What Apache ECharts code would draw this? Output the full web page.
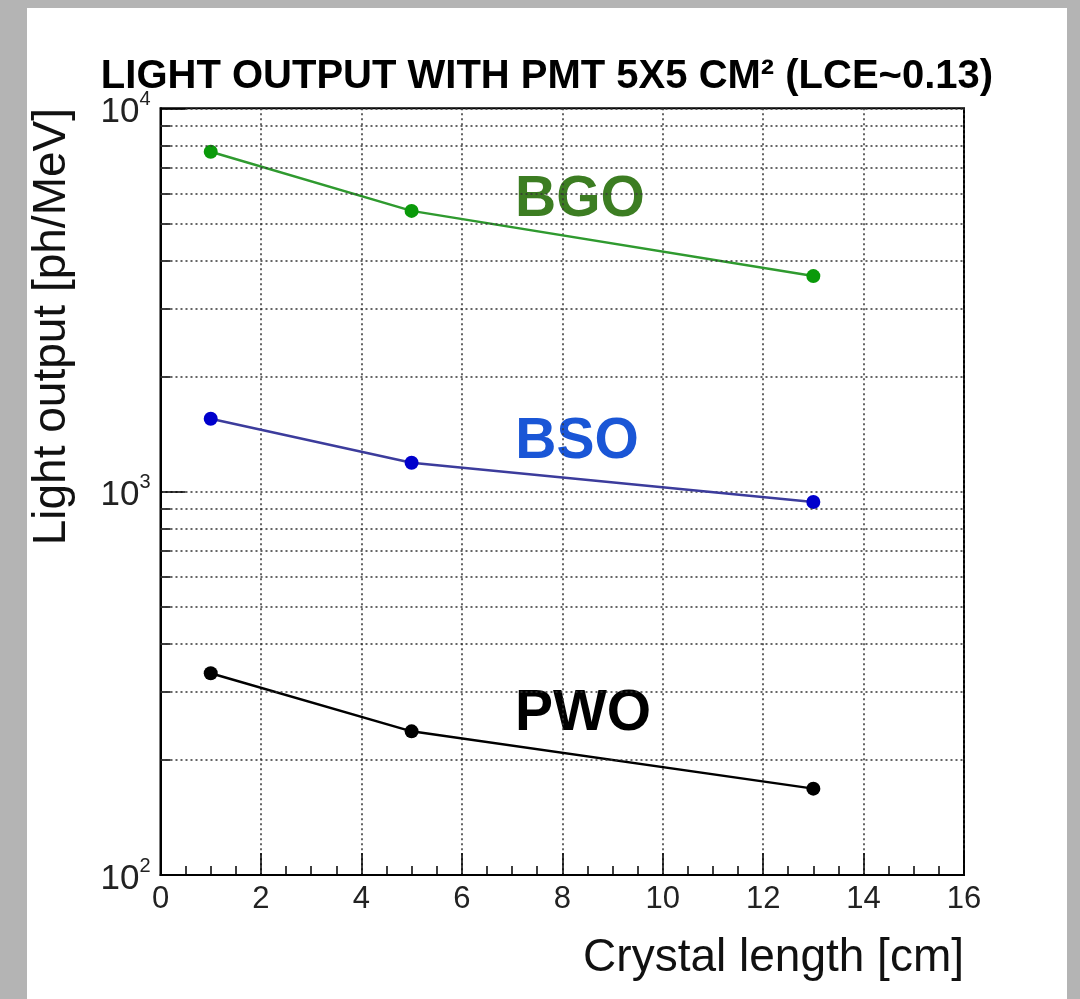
<!DOCTYPE html>
<html>
<head>
<meta charset="utf-8">
<script src="https://cdn.jsdelivr.net/npm/echarts@6/dist/echarts.min.js"></script>
<style>
  html, body { margin: 0; padding: 0; background: #b4b4b4; }
  #main { position: absolute; left: 27px; top: 8px; width: 1040px; height: 991px; background: #fff; }
</style>
</head>
<body>
<div id="main"></div>
<script>
var lengths = [1, 5, 13];
var bgo = [7700, 5400, 3650];
var bso = [1550, 1190, 940];
var pwo = [336, 237, 168];
var minorY = [200, 300, 400, 500, 600, 700, 800, 900, 2000, 3000, 4000, 5000, 6000, 7000, 8000, 9000];

function pairs(ys) {
  return lengths.map(function (x, i) { return [x, ys[i]]; });
}

var dots = { color: '#333', width: 1.5, type: [2, 3] };

// minor grid lines and short ticks on the log axis
var gridLines = minorY.map(function (v) { return { yAxis: v }; });
var tickLines = minorY.map(function (v) { return [{ coord: [0, v] }, { coord: [0.2, v] }]; });

var myChart = echarts.init(document.getElementById('main'));
var option = {
  animation: false,
  title: {
    text: 'LIGHT OUTPUT WITH PMT 5X5 CM² (LCE~0.13)',
    left: 'center',
    top: 44,
    textStyle: { fontFamily: 'Liberation Sans', fontWeight: 'bold', fontSize: 40, color: '#000' }
  },
  grid: {
    left: 133.5, right: 103, top: 100.3, bottom: 124,
    show: true, borderColor: '#000', borderWidth: 2
  },
  xAxis: {
    type: 'value', min: 0, max: 16, interval: 2,
    axisLine: { lineStyle: { color: '#000', width: 2 } },
    axisTick: { inside: true, length: 22, lineStyle: { color: '#000', width: 1.5 } },
    minorTick: { show: true, splitNumber: 4, length: 9, lineStyle: { color: '#000', width: 1.5 } },
    splitLine: { show: true, lineStyle: dots },
    axisLabel: { fontFamily: 'Liberation Sans', fontSize: 31, color: '#222', margin: 9 }
  },
  yAxis: {
    type: 'log', logBase: 10, min: 100, max: 10000,
    axisLine: { lineStyle: { color: '#000', width: 2 } },
    axisTick: { inside: true, length: 25, lineStyle: { color: '#000', width: 1.5 } },
    splitLine: { show: true, lineStyle: dots },
    axisLabel: {
      margin: 10,
      formatter: function (v) { return '{a|10}{b|' + Math.round(Math.log10(v)) + '}'; },
      rich: {
        a: { fontFamily: 'Liberation Sans', fontSize: 35, color: '#222', lineHeight: 38, padding: [8, 0, 0, 0] },
        b: { fontFamily: 'Liberation Sans', fontSize: 20, color: '#222', verticalAlign: 'top', lineHeight: 38 }
      }
    }
  },
  series: [
    {
      name: 'BGO', type: 'line', data: pairs(bgo),
      symbol: 'circle', symbolSize: 14,
      itemStyle: { color: '#0a9a0a' },
      lineStyle: { color: '#2f9a2f', width: 2.5 }
    },
    {
      name: 'BSO', type: 'line', data: pairs(bso),
      symbol: 'circle', symbolSize: 14,
      itemStyle: { color: '#0000cc' },
      lineStyle: { color: '#3c3c9c', width: 2.5 },
      markLine: {
        silent: true, symbol: 'none', label: { show: false },
        lineStyle: { color: '#000', width: 1.5, type: 'solid' },
        data: tickLines
      }
    },
    {
      name: 'PWO', type: 'line', data: pairs(pwo),
      symbol: 'circle', symbolSize: 14,
      itemStyle: { color: '#000' },
      lineStyle: { color: '#000', width: 2.5 },
      markLine: {
        silent: true, symbol: 'none', label: { show: false },
        lineStyle: dots,
        data: gridLines
      }
    }
  ],
  graphic: [
    { type: 'text', x: 25, y: 100, rotation: Math.PI / 2,
      style: { text: 'Light output [ph/MeV]', fontFamily: 'Liberation Sans', fontSize: 46, fill: '#111', align: 'right', verticalAlign: 'middle' } },
    { type: 'text', x: 937, y: 950,
      style: { text: 'Crystal length [cm]', fontFamily: 'Liberation Sans', fontSize: 46, fill: '#111', align: 'right', verticalAlign: 'middle' } },
    { type: 'text', x: 553, y: 192,
      style: { text: 'BGO', fontFamily: 'Liberation Sans', fontWeight: 'bold', fontSize: 57, fill: '#3c7d22', align: 'center', verticalAlign: 'middle' } },
    { type: 'text', x: 550, y: 434,
      style: { text: 'BSO', fontFamily: 'Liberation Sans', fontWeight: 'bold', fontSize: 57, fill: '#1a56d6', align: 'center', verticalAlign: 'middle' } },
    { type: 'text', x: 556, y: 706,
      style: { text: 'PWO', fontFamily: 'Liberation Sans', fontWeight: 'bold', fontSize: 57, fill: '#000', align: 'center', verticalAlign: 'middle' } }
  ]
};
myChart.setOption(option);
</script>
</body>
</html>
